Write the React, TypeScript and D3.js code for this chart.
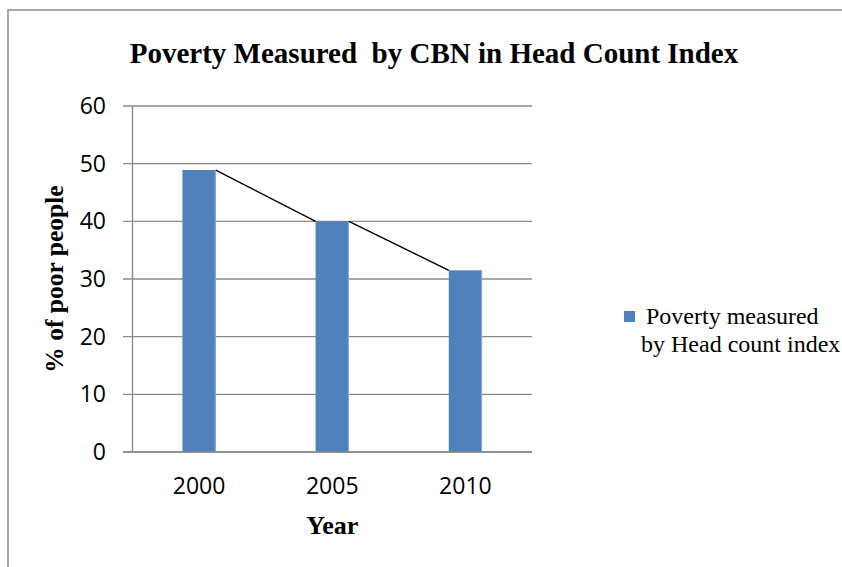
import React from "react";
import * as d3 from "d3";

// chart data
const years = ["2000", "2005", "2010"];
const poverty = [48.9, 40.0, 31.5];
const yTicks = [0, 10, 20, 30, 40, 50, 60];
const legendLines = ["Poverty measured", "by Head count index"];

const serif = "'Liberation Serif', 'Times New Roman', serif";
const sans = "'Open Sans', 'Liberation Sans', sans-serif";

const App = () => {
  const width = 842;
  const height = 567;
  const marginLeft = 132.5;
  const plotRight = 532;
  const plotTop = 106;
  const plotBottom = 452;

  const x = d3
    .scaleBand<string>()
    .domain(years)
    .range([marginLeft, plotRight])
    .paddingInner(0.75)
    .paddingOuter(0.375);

  const y = d3.scaleLinear().domain([0, 60]).range([plotBottom, plotTop]);

  // series lines joining the bar tops (right edge -> next left edge)
  const links = poverty.slice(1).map((v, i) => ({
    x1: (x(years[i]) as number) + x.bandwidth(),
    y1: y(poverty[i]),
    x2: x(years[i + 1]) as number,
    y2: y(v),
  }));

  const gridColor = "#8a8a8a";

  return (
    <svg
      width={width}
      height={height}
      style={{ position: "absolute", left: 0, top: 0, background: "#fff" }}
    >
      {/* outer chart border */}
      <path
        d={`M8,${height} V10 H${width}`}
        fill="none"
        stroke="#8c8c8c"
        strokeWidth={1.5}
      />

      <text
        x={434}
        y={63}
        textAnchor="middle"
        fontFamily={serif}
        fontWeight="bold"
        fontSize={29}
        style={{ whiteSpace: "pre" }}
      >
        {"Poverty Measured  by CBN in Head Count Index"}
      </text>

      {/* gridlines + y ticks */}
      <g>
        {yTicks.map((t) => (
          <g key={t}>
            <line
              x1={123}
              x2={plotRight}
              y1={y(t)}
              y2={y(t)}
              stroke={gridColor}
              strokeWidth={1.4}
            />
            <text
              x={106}
              y={y(t)}
              dy="0.35em"
              textAnchor="end"
              fontFamily={sans}
              fontSize={23}
              fill="#000"
            >
              {t}
            </text>
          </g>
        ))}
        <line
          x1={marginLeft}
          x2={marginLeft}
          y1={plotTop}
          y2={plotBottom}
          stroke={gridColor}
          strokeWidth={1.4}
        />
      </g>

      {/* bars, with the faint light edge on their right side */}
      <g>
        {years.map((yr, i) => (
          <g key={yr}>
            <rect
              x={x(yr)}
              y={y(poverty[i])}
              width={x.bandwidth()}
              height={y(0) - y(poverty[i])}
              fill="#4f81bd"
            />
            <line
              x1={(x(yr) as number) + x.bandwidth() - 0.5}
              x2={(x(yr) as number) + x.bandwidth() - 0.5}
              y1={y(poverty[i])}
              y2={y(0)}
              stroke="#8eaddb"
              strokeWidth={1}
            />
          </g>
        ))}
      </g>

      <line
        x1={123}
        x2={plotRight}
        y1={plotBottom}
        y2={plotBottom}
        stroke={gridColor}
        strokeWidth={1.4}
      />

      {links.map((l, i) => (
        <line key={i} {...l} stroke="#000" strokeWidth={1.4} />
      ))}

      {/* x labels */}
      {years.map((yr) => (
        <text
          key={yr}
          x={(x(yr) as number) + x.bandwidth() / 2}
          y={494}
          textAnchor="middle"
          fontFamily={sans}
          fontSize={23}
        >
          {yr}
        </text>
      ))}

      <text
        x={(marginLeft + plotRight) / 2}
        y={534}
        textAnchor="middle"
        fontFamily={serif}
        fontWeight="bold"
        fontSize={26}
      >
        Year
      </text>

      <text
        transform={`translate(63,${(plotTop + plotBottom) / 2}) rotate(-90)`}
        textAnchor="middle"
        fontFamily={serif}
        fontWeight="bold"
        fontSize={25.5}
      >
        % of poor people
      </text>

      {/* legend */}
      <rect x={624} y={311} width={11} height={11} fill="#4f81bd" />
      <text fontFamily={serif} fontSize={24}>
        <tspan x={646} y={324}>
          {legendLines[0]}
        </tspan>
        <tspan x={641} y={352}>
          {legendLines[1]}
        </tspan>
      </text>
    </svg>
  );
};

export default App;
